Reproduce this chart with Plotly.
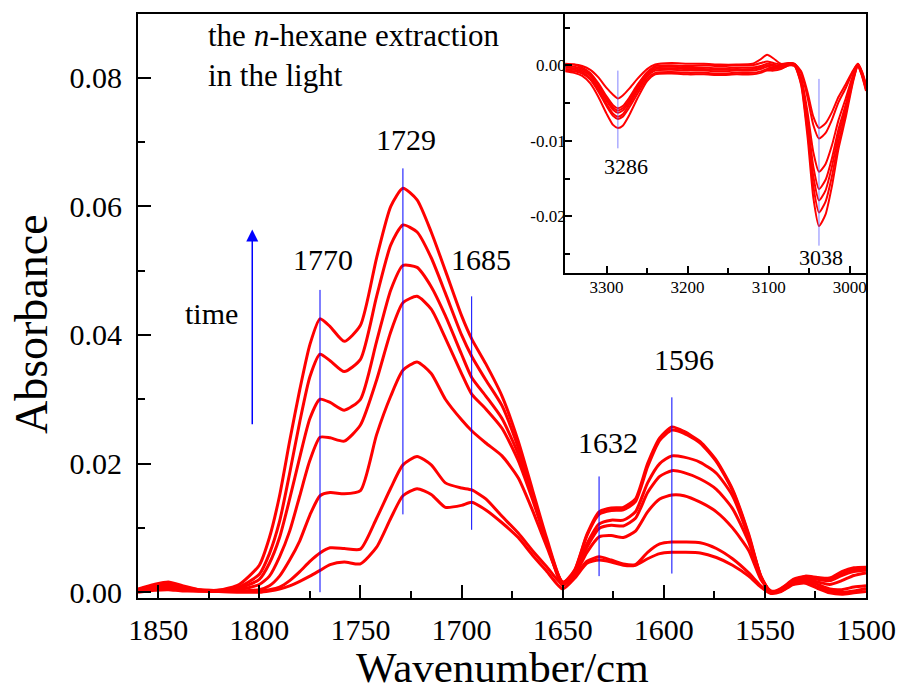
import plotly.graph_objects as go

# ---------------- main spectrum: wavenumber grid (cm-1) ----------------
wavenumber = [1860, 1852, 1845, 1838, 1830, 1820, 1810, 1800, 1795, 1790, 1785, 1780, 1775, 1770,
              1765, 1758, 1750, 1742, 1735, 1729, 1722, 1715, 1708, 1700, 1695, 1688, 1680, 1672,
              1665, 1658, 1650, 1644, 1638, 1632, 1626, 1620, 1614, 1608, 1602, 1596, 1590, 1582,
              1574, 1566, 1558, 1552, 1547, 1542, 1536, 1530, 1524, 1518, 1512, 1506, 1500]

# absorbance spectra, earliest (t1) to latest (t7)
abs_t1 = [0.0000, 0.0003, 0.0004, 0.0002, 0.0002, 0.0001, 0.0000, 0.0000, 0.0002, 0.0005, 0.0010, 0.0017, 0.0025, 0.0034,
          0.0043, 0.0047, 0.0044, 0.0070, 0.0115, 0.0150, 0.0161, 0.0152, 0.0132, 0.0135, 0.0140, 0.0128, 0.0108, 0.0085,
          0.0058, 0.0033, 0.0005, 0.0022, 0.0045, 0.0050, 0.0047, 0.0042, 0.0042, 0.0052, 0.0060, 0.0062, 0.0062, 0.0061,
          0.0054, 0.0042, 0.0025, 0.0008, -0.0002, 0.0001, 0.0012, 0.0014, 0.0006, -0.0001, -0.0003, -0.0001, 0.0001]
abs_t2 = [0.0001, 0.0004, 0.0005, 0.0003, 0.0002, 0.0001, 0.0001, 0.0002, 0.0004, 0.0008, 0.0018, 0.0032, 0.0048, 0.0061,
          0.0069, 0.0068, 0.0067, 0.0115, 0.0162, 0.0198, 0.0211, 0.0198, 0.0170, 0.0162, 0.0159, 0.0145, 0.0118, 0.0092,
          0.0065, 0.0040, 0.0012, 0.0025, 0.0048, 0.0055, 0.0050, 0.0044, 0.0043, 0.0062, 0.0075, 0.0078, 0.0078, 0.0077,
          0.0068, 0.0052, 0.0030, 0.0010, -0.0001, 0.0002, 0.0013, 0.0016, 0.0008, 0.0002, 0.0000, 0.0002, 0.0006]
abs_t3 = [0.0002, 0.0005, 0.0006, 0.0004, 0.0002, 0.0002, 0.0002, 0.0004, 0.0010, 0.0025, 0.0050, 0.0080, 0.0120, 0.0150,
          0.0155, 0.0153, 0.0158, 0.0245, 0.0305, 0.0345, 0.0358, 0.0340, 0.0300, 0.0268, 0.0251, 0.0232, 0.0212, 0.0178,
          0.0128, 0.0072, 0.0016, 0.0028, 0.0062, 0.0086, 0.0088, 0.0085, 0.0095, 0.0125, 0.0145, 0.0151, 0.0150, 0.0140,
          0.0125, 0.0100, 0.0065, 0.0020, 0.0002, 0.0003, 0.0014, 0.0018, 0.0012, 0.0005, 0.0004, 0.0008, 0.0010]
abs_t4 = [0.0002, 0.0006, 0.0008, 0.0005, 0.0003, 0.0002, 0.0004, 0.0012, 0.0025, 0.0055, 0.0095, 0.0150, 0.0205, 0.0241,
          0.0240, 0.0235, 0.0260, 0.0330, 0.0405, 0.0450, 0.0460, 0.0440, 0.0395, 0.0340, 0.0308, 0.0285, 0.0255, 0.0205,
          0.0145, 0.0080, 0.0015, 0.0030, 0.0070, 0.0099, 0.0104, 0.0103, 0.0115, 0.0155, 0.0180, 0.0189, 0.0186, 0.0176,
          0.0160, 0.0130, 0.0078, 0.0022, 0.0000, 0.0004, 0.0015, 0.0020, 0.0016, 0.0012, 0.0018, 0.0026, 0.0030]
abs_t5 = [0.0003, 0.0008, 0.0010, 0.0006, 0.0003, 0.0003, 0.0006, 0.0020, 0.0045, 0.0085, 0.0145, 0.0210, 0.0270, 0.0300,
          0.0295, 0.0283, 0.0300, 0.0390, 0.0470, 0.0508, 0.0505, 0.0475, 0.0430, 0.0370, 0.0334, 0.0305, 0.0270, 0.0215,
          0.0150, 0.0078, 0.0012, 0.0030, 0.0075, 0.0106, 0.0112, 0.0112, 0.0125, 0.0170, 0.0200, 0.0212, 0.0210, 0.0202,
          0.0185, 0.0150, 0.0085, 0.0025, 0.0000, 0.0004, 0.0017, 0.0022, 0.0020, 0.0018, 0.0026, 0.0032, 0.0034]
abs_t6 = [0.0004, 0.0010, 0.0013, 0.0008, 0.0004, 0.0003, 0.0008, 0.0028, 0.0060, 0.0110, 0.0185, 0.0265, 0.0335, 0.0370,
          0.0360, 0.0343, 0.0362, 0.0460, 0.0540, 0.0571, 0.0560, 0.0520, 0.0465, 0.0400, 0.0367, 0.0330, 0.0290, 0.0225,
          0.0155, 0.0080, 0.0010, 0.0034, 0.0088, 0.0121, 0.0127, 0.0128, 0.0141, 0.0195, 0.0236, 0.0252, 0.0247, 0.0232,
          0.0203, 0.0158, 0.0088, 0.0024, 0.0000, 0.0006, 0.0018, 0.0024, 0.0022, 0.0020, 0.0028, 0.0035, 0.0036]
abs_t7 = [0.0005, 0.0012, 0.0016, 0.0010, 0.0004, 0.0003, 0.0012, 0.0042, 0.0085, 0.0150, 0.0235, 0.0315, 0.0385, 0.0425,
          0.0413, 0.0390, 0.0415, 0.0520, 0.0600, 0.0628, 0.0610, 0.0560, 0.0500, 0.0430, 0.0394, 0.0355, 0.0305, 0.0235,
          0.0160, 0.0085, 0.0015, 0.0035, 0.0090, 0.0125, 0.0131, 0.0132, 0.0145, 0.0200, 0.0240, 0.0257, 0.0250, 0.0234,
          0.0205, 0.0160, 0.0090, 0.0025, -0.0001, 0.0005, 0.0020, 0.0025, 0.0023, 0.0022, 0.0032, 0.0038, 0.0039]
main_spectra = [abs_t1, abs_t2, abs_t3, abs_t4, abs_t5, abs_t6, abs_t7]

# band markers in the main panel: position, vertical extent, label
band_pos = [1770, 1729, 1695, 1632, 1596]
band_low = [0.0000, 0.0121, 0.0097, 0.0025, 0.0029]
band_high = [0.0470, 0.0659, 0.0460, 0.0180, 0.0303]
band_text = ["1770", "1729", "1685", "1632", "1596"]

# ---------------- inset: 3350-2980 cm-1 region ----------------
inset_wn = [3351, 3340, 3330, 3320, 3310, 3300, 3292, 3286, 3280, 3272, 3262, 3250, 3240, 3220, 3200, 3180,
            3160, 3140, 3120, 3110, 3102, 3094, 3085, 3075, 3068, 3060, 3052, 3045, 3038, 3030, 3022, 3014,
            3005, 2996, 2990, 2985, 2980]
inset_a = [0.0001, 0.0001, -0.0001, -0.0006, -0.0016, -0.0030, -0.0039, -0.0044, -0.0040, -0.0031, -0.0018, -0.0005,
           0.0001, 0.0003, 0.0002, 0.0002, 0.0001, 0.0001, 0.0002, 0.0008, 0.0014, 0.0009, 0.0002, 0.0003, 0.0002,
           -0.0008, -0.0036, -0.0068, -0.0083, -0.0077, -0.0062, -0.0042, -0.0025, -0.0007, 0.0002, -0.0008, -0.0025]
inset_b = [0.0002, 0.0001, -0.0003, -0.0010, -0.0024, -0.0041, -0.0053, -0.0057, -0.0054, -0.0043, -0.0026, -0.0009,
           -0.0001, 0.0000, -0.0001, 0.0000, -0.0001, 0.0000, 0.0000, 0.0003, 0.0005, 0.0003, 0.0001, 0.0003, 0.0002,
           -0.0010, -0.0043, -0.0079, -0.0097, -0.0090, -0.0072, -0.0049, -0.0030, -0.0008, 0.0002, -0.0009, -0.0027]
inset_c = [-0.0001, -0.0002, -0.0005, -0.0012, -0.0026, -0.0044, -0.0056, -0.0060, -0.0057, -0.0046, -0.0028, -0.0011,
           -0.0003, -0.0002, -0.0003, -0.0003, -0.0004, -0.0003, -0.0003, -0.0001, 0.0002, 0.0001, -0.0001, 0.0002, 0.0001,
           -0.0016, -0.0063, -0.0115, -0.0141, -0.0131, -0.0106, -0.0073, -0.0044, -0.0013, 0.0001, -0.0010, -0.0029]
inset_d = [-0.0003, -0.0004, -0.0007, -0.0014, -0.0029, -0.0047, -0.0059, -0.0063, -0.0060, -0.0049, -0.0031, -0.0013,
           -0.0005, -0.0004, -0.0005, -0.0005, -0.0006, -0.0005, -0.0005, -0.0003, 0.0000, -0.0001, -0.0002, 0.0002, 0.0001,
           -0.0019, -0.0073, -0.0134, -0.0164, -0.0152, -0.0123, -0.0085, -0.0052, -0.0016, 0.0000, -0.0011, -0.0030]
inset_e = [-0.0005, -0.0006, -0.0009, -0.0017, -0.0032, -0.0051, -0.0064, -0.0068, -0.0065, -0.0052, -0.0034, -0.0015,
           -0.0007, -0.0006, -0.0007, -0.0007, -0.0008, -0.0007, -0.0007, -0.0005, -0.0002, -0.0003, -0.0003, 0.0001, 0.0000,
           -0.0021, -0.0081, -0.0147, -0.0179, -0.0166, -0.0134, -0.0093, -0.0057, -0.0018, 0.0000, -0.0012, -0.0031]
inset_f = [-0.0007, -0.0008, -0.0011, -0.0019, -0.0035, -0.0054, -0.0067, -0.0071, -0.0068, -0.0056, -0.0038, -0.0018,
           -0.0010, -0.0009, -0.0010, -0.0010, -0.0011, -0.0010, -0.0010, -0.0008, -0.0005, -0.0005, -0.0004, 0.0000, -0.0001,
           -0.0024, -0.0088, -0.0160, -0.0195, -0.0181, -0.0147, -0.0102, -0.0063, -0.0020, -0.0001, -0.0013, -0.0032]
inset_g = [-0.0008, -0.0010, -0.0014, -0.0024, -0.0042, -0.0064, -0.0079, -0.0083, -0.0080, -0.0066, -0.0044, -0.0021,
           -0.0012, -0.0011, -0.0012, -0.0012, -0.0013, -0.0012, -0.0012, -0.0010, -0.0007, -0.0007, -0.0005, 0.0000, -0.0001,
           -0.0026, -0.0096, -0.0175, -0.0213, -0.0198, -0.0160, -0.0111, -0.0069, -0.0022, -0.0001, -0.0014, -0.0034]
inset_spectra = [inset_a, inset_b, inset_c, inset_d, inset_e, inset_f, inset_g]

inset_band_pos = [3286, 3038]
inset_band_low = [-0.0110, -0.0239]
inset_band_high = [-0.0007, -0.0018]
inset_band_text = ["3286", "3038"]

inset_ytick_vals = [-0.02, -0.01, 0.00]
inset_ytick_text = ["-0.02", "-0.01", "0.00"]

# ---------------- styling ----------------
SERIF = "Liberation Serif"
RED = "#ff0000"
BLUE = "#0000ff"

fig = go.Figure()

for spec in main_spectra:
    fig.add_trace(go.Scatter(x=wavenumber, y=spec, mode="lines",
                             line=dict(color=RED, width=3, shape="spline", smoothing=0.6),
                             showlegend=False, hoverinfo="skip"))

for p, lo, hi in zip(band_pos, band_low, band_high):
    fig.add_trace(go.Scatter(x=[p, p], y=[lo, hi], mode="lines",
                             line=dict(color=BLUE, width=1), showlegend=False, hoverinfo="skip"))

for spec in inset_spectra:
    fig.add_trace(go.Scatter(x=inset_wn, y=spec, mode="lines", xaxis="x2", yaxis="y2",
                             line=dict(color=RED, width=2, shape="spline", smoothing=0.6),
                             showlegend=False, hoverinfo="skip"))

for p, lo, hi in zip(inset_band_pos, inset_band_low, inset_band_high):
    fig.add_trace(go.Scatter(x=[p, p], y=[lo, hi], mode="lines", xaxis="x2", yaxis="y2",
                             line=dict(color="rgba(90,90,255,0.75)", width=1),
                             showlegend=False, hoverinfo="skip"))

axis_common = dict(showline=True, linecolor="black", linewidth=2, mirror=True,
                   ticks="inside", tickcolor="black", showgrid=False, zeroline=False)

fig.update_layout(
    width=908, height=696,
    margin=dict(l=138, r=35, t=12, b=98),
    paper_bgcolor="white", plot_bgcolor="white",
    font=dict(family=SERIF, color="black"),
    xaxis=dict(range=[1860, 1500], domain=[0, 1], dtick=50, tick0=1500,
               ticklen=13, tickwidth=2, tickfont=dict(size=30, family=SERIF),
               minor=dict(ticks="inside", dtick=25, tick0=1500, ticklen=7, tickwidth=2, tickcolor="black"),
               ticklabelstandoff=4,
               **axis_common),
    yaxis=dict(range=[-0.0009, 0.0899], domain=[0, 1], dtick=0.02, tick0=0, tickformat=".2f",
               ticklen=13, tickwidth=2, tickfont=dict(size=30, family=SERIF),
               minor=dict(ticks="inside", dtick=0.01, tick0=0, ticklen=7, tickwidth=2, tickcolor="black"),
               ticklabelstandoff=8,
               **axis_common),
    xaxis2=dict(range=[3351, 2980], domain=[0.5868, 1.0], anchor="y2", dtick=100, tick0=3000,
                ticklen=7, tickwidth=1.5, tickfont=dict(size=17, family=SERIF),
                minor=dict(ticks="inside", dtick=50, tick0=3000, ticklen=5, tickwidth=1.5, tickcolor="black"),
                ticklabelstandoff=-2,
                **axis_common),
    yaxis2=dict(range=[-0.0275, 0.0068], domain=[0.5568, 1.0], anchor="x2",
                tickvals=inset_ytick_vals, ticktext=inset_ytick_text,
                ticklen=7, tickwidth=1.5, tickfont=dict(size=17, family=SERIF),
                minor=dict(ticks="inside", dtick=0.005, tick0=0, ticklen=5, tickwidth=1.5, tickcolor="black"),
                ticklabelstandoff=-6,
                **axis_common),
)

annotations = []
# axis titles
annotations.append(dict(text="Absorbance", xref="paper", yref="paper", x=-0.147, y=0.469,
                        textangle=-90, showarrow=False, xanchor="center", yanchor="middle",
                        font=dict(size=46, family=SERIF)))
annotations.append(dict(text="Wavenumber/cm", xref="paper", yref="paper", x=0.501, y=-0.1625,
                        showarrow=False, xanchor="center", yanchor="bottom",
                        font=dict(size=43, family=SERIF)))
# sample description
annotations.append(dict(text="the <i>n</i>-hexane extraction<br>in the light", xref="paper", yref="paper",
                        x=0.094, y=0.997, xanchor="left", yanchor="top", align="left",
                        showarrow=False, font=dict(size=31, family=SERIF)))
# band labels
band_label_xy = [(1768.4, 0.0518), (1727.6, 0.0704), (1690.4, 0.0518), (1627.5, 0.0233), (1590.2, 0.0362)]
for txt, (lx, ly) in zip(band_text, band_label_xy):
    annotations.append(dict(text=txt, x=lx, y=ly, xref="x", yref="y", showarrow=False,
                            xanchor="center", yanchor="middle", font=dict(size=30, family=SERIF)))
inset_label_xy = [(3276.3, -0.0134), (3035.1, -0.0255)]
for txt, (lx, ly) in zip(inset_band_text, inset_label_xy):
    annotations.append(dict(text=txt, x=lx, y=ly, xref="x2", yref="y2", showarrow=False,
                            xanchor="center", yanchor="middle", font=dict(size=22, family=SERIF)))
# time arrow
annotations.append(dict(text="", x=1803.5, y=0.0564, ax=1803.5, ay=0.0259, xref="x", yref="y",
                        axref="x", ayref="y", showarrow=True, arrowhead=2, arrowsize=1.6,
                        arrowwidth=1.5, arrowcolor=BLUE))
annotations.append(dict(text="time", x=1823.6, y=0.0434, xref="x", yref="y", showarrow=False,
                        xanchor="center", yanchor="middle", font=dict(size=30, family=SERIF)))
fig.update_layout(annotations=annotations)

fig.write_html("out.html")
